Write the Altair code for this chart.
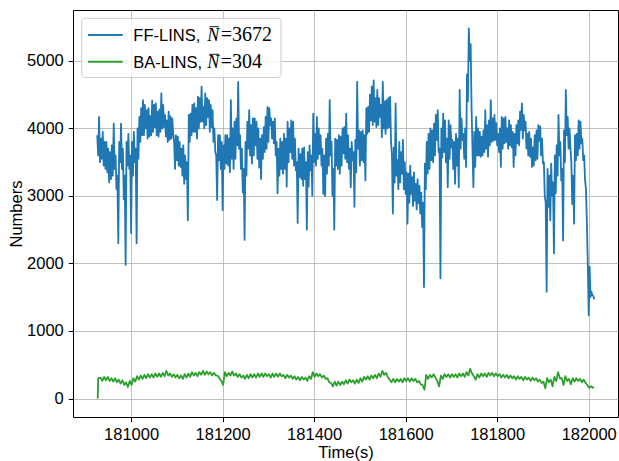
import altair as alt
import pandas as pd

# ---------------- data ----------------
# FF-LINS: the trace is a dense noisy band. For every 4 s slot starting at
# ff_start the top and the bottom of the band were read off the picture.
ff_start = 180927
ff_step = 4
ff_upper = [
    3900, 4170, 3850, 3950, 3800, 3800, 3700, 3650, 3750, 4070,
    3600, 3300, 3800, 4070, 3700, 3300, 3800, 3920, 3600, 3800,
    3950, 3700, 4000, 4170, 4300, 4420, 4350, 4270, 4300, 4180,
    4410, 4350, 4370, 4250, 4280, 4520, 4350, 4200, 4120, 4250,
    4180, 4150, 3800, 3900, 3880, 3800, 3700, 3750, 3600, 3500,
    4200, 4220, 4350, 4370, 4300, 4470, 4450, 4620, 4320, 4520,
    4450, 4420, 4350, 4270, 4000, 3600, 3900, 3900, 3800, 3750,
    3900, 3900, 3850, 4420, 4000, 4100, 4150, 4690, 3900, 3700,
    3400, 3800, 4100, 4270, 4050, 4150, 4150, 4100, 4000, 3850,
    3900, 4020, 4170, 4320, 4300, 4150, 4100, 4150, 3800, 3700,
    3850, 3800, 3920, 3850, 4100, 4000, 4120, 4100, 3850, 3500,
    3700, 3620, 3700, 3720, 3500, 3650, 3750, 3600, 4220, 3920,
    4170, 4000, 3900, 3700, 3600, 3850, 3920, 4420, 3800, 3400,
    3850, 3830, 3900, 3880, 4000, 4020, 4220, 3900, 3700, 3800,
    3650, 3830, 4690, 3970, 3950, 3970, 3900, 4300, 4320, 4500,
    4620, 4710, 4450, 4570, 4450, 4350, 4690, 4400, 4420, 4450,
    4470, 3600, 3720, 4370, 3530, 3800, 3650, 3830, 3500, 3350,
    3330, 3450, 3280, 3350, 3180, 3250, 3150, 3050, 2900, 3480,
    3800, 3920, 4000, 3970, 4070, 4200, 4270, 3700, 4000, 4220,
    4120, 3850, 4120, 4050, 3830, 3800, 3920, 3850, 4570, 4150,
    3920, 4000, 4800, 5480, 5250, 3700, 3950, 4170, 4000, 3950,
    3880, 3970, 4270, 4050, 4120, 4420, 4150, 4200, 4080, 3920,
    4000, 4170, 4150, 4170, 4000, 4120, 4050, 3950, 3920, 4050,
    4120, 4250, 4370, 4200, 4100, 3920, 3950, 3850, 3720, 3900,
    3970, 4050, 4030, 3850, 3500, 2900, 3400, 3300, 3480, 3200,
    3600, 3750, 4200, 3800, 3400, 3970, 4570, 4170, 4000, 3500,
    3300, 3900, 3920, 4120, 4100, 3850, 3600, 3100, 2000, 1950,
    1580, 1520,
]
ff_lower = [
    3600, 3500, 3550, 3450, 3400, 3350, 3200, 3250, 3300, 3400,
    3100, 2300, 3500, 3400, 2950, 1980, 3450, 3400, 2450, 3300,
    3500, 2300, 3550, 3800, 3900, 3900, 4000, 3850, 3880, 3900,
    3950, 4020, 3900, 3880, 3950, 4000, 4020, 3880, 3800, 3830,
    3850, 3920, 3400, 3530, 3450, 3430, 3300, 3180, 3250, 2640,
    3800, 3900, 3950, 3950, 3850, 4000, 4100, 4100, 4000, 4050,
    4170, 3950, 4020, 3800, 3650, 2940, 3530, 3400, 2790, 3400,
    3480, 3450, 3350, 3550, 3400, 3550, 3750, 3700, 3400, 3050,
    2350, 3300, 3700, 3600, 3480, 3600, 3750, 3550, 3420, 3250,
    3550, 3650, 3700, 3800, 4050, 3850, 3780, 3600, 3040, 3300,
    3400, 3330, 3400, 3140, 3500, 3650, 3550, 3450, 3380, 2600,
    3280, 3250, 3150, 3250, 2500, 3140, 3380, 3000, 3500, 3450,
    3550, 3620, 3450, 3030, 3000, 3330, 3450, 3600, 3000, 2500,
    3450, 3400, 3330, 3450, 3630, 3550, 3500, 3400, 3130, 3530,
    2840, 3350, 3700, 3450, 3530, 3500, 3230, 3920, 3950, 4120,
    4050, 4100, 4020, 4050, 4170, 3870, 4000, 3920, 4000, 4020,
    3800, 2740, 3200, 3300, 3100, 3200, 3330, 3100, 3030, 2590,
    2900, 3030, 2850, 2930, 2800, 2890, 2740, 2540, 1650, 3100,
    3330, 3400, 3530, 3500, 3600, 3830, 3650, 1780, 3570, 3650,
    3500, 3130, 3550, 3720, 3400, 3180, 3450, 3130, 3700, 3830,
    3550, 3430, 4400, 5000, 4300, 3130, 3430, 3600, 3600, 3580,
    3600, 3650, 3700, 3580, 3750, 3800, 3820, 3830, 3750, 3650,
    3430, 3700, 3780, 3800, 3700, 3750, 3720, 3430, 3600, 3780,
    3750, 3980, 3850, 3970, 3700, 3600, 3580, 3430, 3450, 3530,
    3550, 3820, 3600, 3480, 2990, 1580, 2840, 2640, 3000, 2150,
    3040, 3300, 3600, 3230, 2340, 3500, 3900, 3700, 3720, 2880,
    2590, 3530, 3600, 3700, 3780, 3530, 3230, 2600, 1230, 1500,
    1530, 1470,
]

# BA-LINS: starts at 0, jumps up, then a thin noisy band read per 8 s slot
ba_start_times = [180927, 180928]
ba_start_values = [0, 300]
ba_slot_start = 180935
ba_slot_step = 8
ba_upper = [
    310, 320, 320, 300, 300, 280, 270, 240, 260, 300,
    330, 340, 350, 360, 360, 370, 370, 380, 410, 370,
    360, 350, 340, 360, 370, 390, 380, 390, 410, 400,
    390, 380, 340, 260, 390, 380, 400, 370, 360, 340,
    350, 360, 360, 370, 370, 370, 360, 370, 370, 370,
    350, 350, 340, 330, 320, 320, 310, 330, 390, 370,
    360, 340, 300, 230, 250, 250, 250, 270, 280, 270,
    280, 300, 320, 330, 340, 350, 370, 410, 380, 280,
    290, 290, 290, 300, 300, 300, 290, 260, 200, 350,
    350, 360, 260, 340, 360, 360, 360, 360, 370, 370,
    390, 440, 330, 360, 370, 370, 380, 380, 370, 360,
    350, 350, 340, 330, 330, 320, 320, 310, 310, 300,
    280, 250, 300, 280, 320, 390, 300, 330, 290, 300,
    300, 290, 280, 200, 180,
]
ba_lower = [
    260, 270, 260, 250, 240, 220, 200, 170, 200, 250,
    280, 290, 300, 310, 310, 320, 320, 330, 340, 320,
    310, 300, 290, 310, 320, 340, 330, 350, 350, 360,
    340, 340, 300, 200, 330, 340, 340, 320, 310, 290,
    300, 310, 310, 320, 320, 330, 310, 320, 320, 330,
    300, 310, 290, 280, 270, 280, 260, 290, 320, 330,
    310, 290, 240, 180, 190, 200, 210, 220, 240, 220,
    230, 250, 280, 280, 300, 300, 320, 350, 320, 240,
    240, 250, 240, 260, 250, 260, 240, 210, 130, 290,
    310, 310, 180, 290, 320, 310, 320, 310, 330, 320,
    340, 370, 280, 310, 330, 320, 340, 330, 330, 310,
    310, 300, 300, 280, 290, 270, 280, 260, 270, 250,
    230, 150, 240, 180, 260, 300, 200, 260, 210, 250,
    260, 240, 230, 160, 160,
]
ba_end_time = 182011
ba_end_value = 170

series_names = ["FF-LINS", "BA-LINS"]
series_means = [3672, 304]
series_colors = ["#1f77b4", "#2ca02c"]
x_ticks = [181000, 181200, 181400, 181600, 181800, 182000]
y_ticks = [0, 1000, 2000, 3000, 4000, 5000]
x_domain = [180873, 182064]
y_domain = [-274, 5754]

# ---------------- tables ----------------
ff_t, ff_n = [], []
for i in range(len(ff_upper)):
    c = ff_start + ff_step * i
    ff_t += [c - 1, c + 1]
    ff_n += [ff_upper[i], ff_lower[i]]
ff_df = pd.DataFrame({"t": ff_t, "n": ff_n})
ff_df["s"] = series_names[0]

ba_t, ba_n = list(ba_start_times), list(ba_start_values)
for j in range(len(ba_upper)):
    c = ba_slot_start + ba_slot_step * j
    ba_t += [c - 2, c + 2]
    ba_n += [ba_upper[j], ba_lower[j]]
ba_t.append(ba_end_time)
ba_n.append(ba_end_value)
ba_df = pd.DataFrame({"t": ba_t, "n": ba_n})
ba_df["s"] = series_names[1]

df = pd.concat([ff_df, ba_df], ignore_index=True)

W, H = 545, 407
SANS = "Liberation Sans"
SERIF = "Liberation Serif"
FS = 16.5

x_axis = alt.Axis(
    values=x_ticks, format="d", title="Time(s)",
    grid=True, gridColor="#b0b0b0", gridWidth=0.8,
    domain=False, ticks=True, tickColor="black", tickSize=4.7, tickWidth=1,
    labelFont=SANS, labelFontSize=FS, labelColor="black", labelPadding=5,
    labelFlush=False, labelOverlap=False,
    titleFont=SANS, titleFontSize=FS, titleFontWeight="normal", titleColor="black",
    titleX=W / 2, titleY=40, titleAlign="center", titleBaseline="alphabetic",
)
y_axis = alt.Axis(
    values=y_ticks, format="d", title="Numbers",
    grid=True, gridColor="#b0b0b0", gridWidth=0.8,
    domain=False, ticks=True, tickColor="black", tickSize=4.7, tickWidth=1,
    labelFont=SANS, labelFontSize=FS, labelColor="black", labelPadding=5,
    labelOverlap=False,
    titleFont=SANS, titleFontSize=FS, titleFontWeight="normal", titleColor="black",
    titleX=-57, titleY=H / 2, titleAngle=270, titleAlign="center", titleBaseline="middle",
)

lines = alt.Chart(df).mark_line(strokeWidth=1.8, strokeJoin="round").encode(
    x=alt.X("t:Q", scale=alt.Scale(domain=x_domain, nice=False, zero=False), axis=x_axis),
    y=alt.Y("n:Q", scale=alt.Scale(domain=y_domain, nice=False, zero=False), axis=y_axis),
    color=alt.Color("s:N", scale=alt.Scale(domain=series_names, range=series_colors), legend=None),
)

one = pd.DataFrame({"k": [0]})
legend_box = alt.Chart(one).mark_rect(
    fill="white", fillOpacity=0.8, stroke="#cccccc", strokeWidth=1, cornerRadius=3
).encode(x=alt.value(8.7), x2=alt.value(208), y=alt.value(8.3), y2=alt.value(67.5))

layers = [lines, legend_box]
row_line_y = [25, 51.7]
row_text_y = [31, 58.3]
row_bar_y = [16.7, 44.3]
for r in range(2):
    layers.append(
        alt.Chart(one).mark_rule(color=series_colors[r], strokeWidth=2).encode(
            x=alt.value(15), x2=alt.value(49.7), y=alt.value(row_line_y[r])
        )
    )
    layers.append(
        alt.Chart(pd.DataFrame({"label": [series_names[r] + ","]})).mark_text(
            font=SANS, fontSize=FS, align="left", baseline="alphabetic", color="black"
        ).encode(x=alt.value(60.3), y=alt.value(row_text_y[r]), text="label:N")
    )
    layers.append(
        alt.Chart(pd.DataFrame({"label": ["N"]})).mark_text(
            font=SERIF, fontSize=18, fontStyle="italic", align="left",
            baseline="alphabetic", color="black"
        ).encode(x=alt.value(134.3), y=alt.value(row_text_y[r]), text="label:N")
    )
    layers.append(
        alt.Chart(one).mark_rule(color="black", strokeWidth=0.9).encode(
            x=alt.value(136.3), x2=alt.value(146), y=alt.value(row_bar_y[r])
        )
    )
    layers.append(
        alt.Chart(pd.DataFrame({"label": ["=" + str(series_means[r])]})).mark_text(
            font=SERIF, fontSize=20, align="left", baseline="alphabetic", color="black"
        ).encode(x=alt.value(147.8), y=alt.value(row_text_y[r]), text="label:N")
    )

chart = alt.layer(*layers).properties(
    width=W, height=H,
    autosize=alt.AutoSizeParams(type="none"),
    padding={"left": 73, "top": 10, "right": 1, "bottom": 44},
).configure_view(stroke="black", strokeWidth=1)

chart.save("out.html", embed_options={"renderer": "svg", "actions": False})
